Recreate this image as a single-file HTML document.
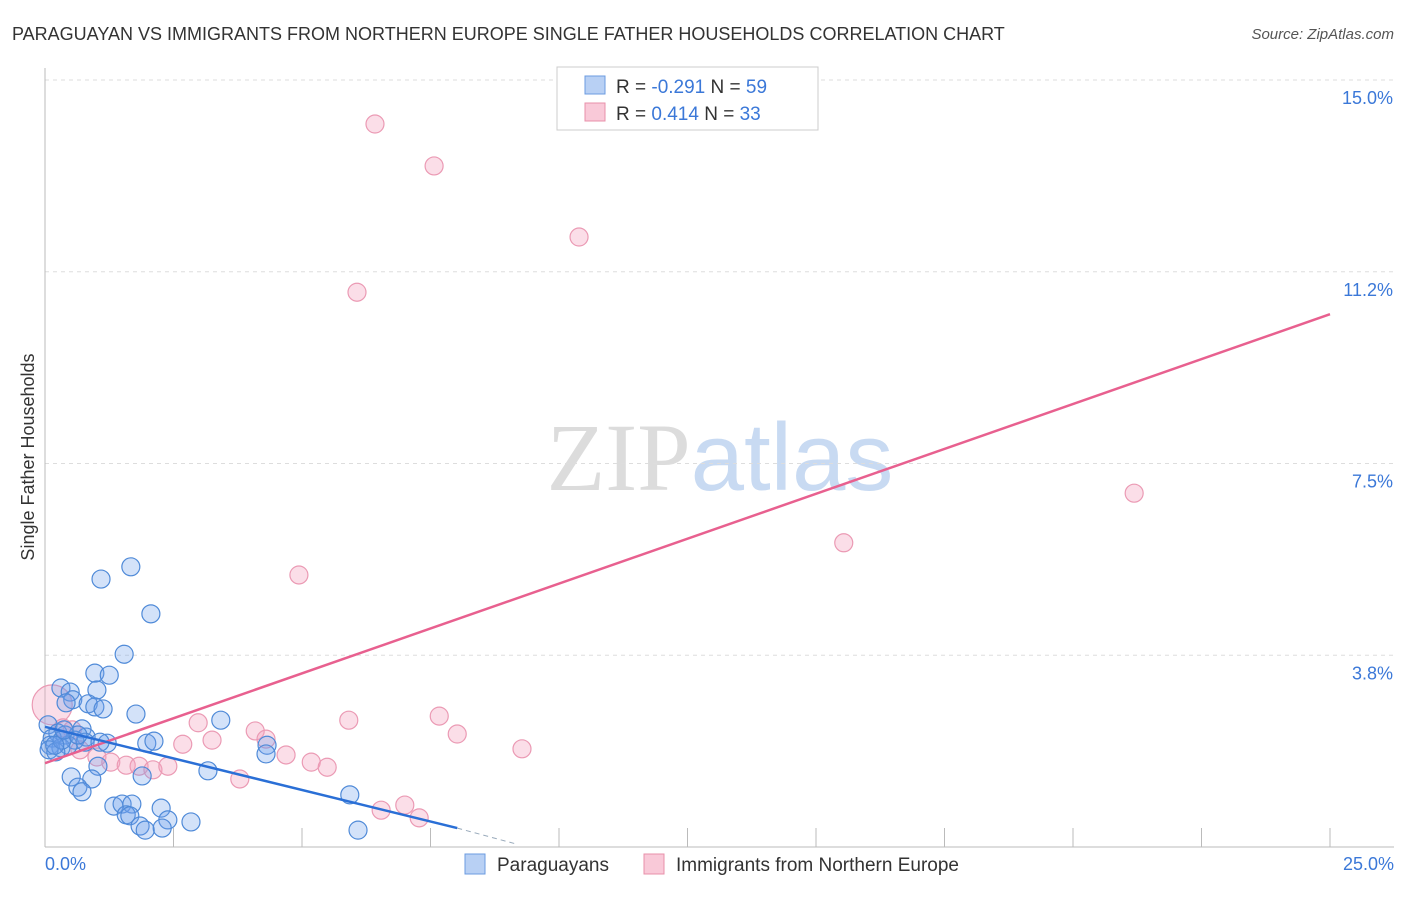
<!DOCTYPE html>
<html><head><meta charset="utf-8"><style>
body{margin:0;background:#fff;font-family:"Liberation Sans",sans-serif}
svg text{font-family:"Liberation Sans",sans-serif}
</style></head><body>
<svg id="chart" width="1406" height="892" xmlns="http://www.w3.org/2000/svg">
<text x="12" y="40" font-size="18" fill="#333">PARAGUAYAN VS IMMIGRANTS FROM NORTHERN EUROPE SINGLE FATHER HOUSEHOLDS CORRELATION CHART</text>
<text x="1394" y="39" font-size="15" fill="#555" font-style="italic" text-anchor="end">Source: ZipAtlas.com</text>
<text x="720" y="490" font-size="96" text-anchor="middle"><tspan fill="#dcdcdc" font-family="Liberation Serif">ZIP</tspan><tspan fill="#c8daf2">atlas</tspan></text>
<g id="grid"></g>
<g id="axes"></g>
<text transform="translate(34,457) rotate(-90)" font-size="18" fill="#333" text-anchor="middle">Single Father Households</text>
<g id="marks"></g>
<g>
<rect x="557" y="67" width="261" height="63" fill="#fff" stroke="#ccc"/>
<rect x="585" y="76" width="20" height="18" fill="#b8d0f4" stroke="#6b9be0"/>
<text x="616" y="93" font-size="19" fill="#333">R = <tspan fill="#3b78d8">-0.291</tspan>   N = <tspan fill="#3b78d8">59</tspan></text>
<rect x="585" y="103" width="20" height="18" fill="#f9c9d8" stroke="#e890aa"/>
<text x="616" y="120" font-size="19" fill="#333">R =  <tspan fill="#3b78d8">0.414</tspan>   N = <tspan fill="#3b78d8">33</tspan></text>
</g>
<g>
<rect x="465" y="854" width="20" height="20" fill="#b8d0f4" stroke="#6b9be0"/>
<text x="497" y="871" font-size="19" fill="#333">Paraguayans</text>
<rect x="644" y="854" width="20" height="20" fill="#f9c9d8" stroke="#e890aa"/>
<text x="676" y="871" font-size="19" fill="#333">Immigrants from Northern Europe</text>
</g>
</svg>
<script>
const blueX=[1.09,1.67,2.06,1.54,0.97,1.25,0.31,0.49,1.01,0.54,0.84,0.41,0.97,1.13,1.77,3.42,0.06,0.72,0.25,0.39,0.14,0.80,0.58,1.21,1.98,2.12,0.10,0.31,0.45,4.32,4.30,0.08,1.03,0.51,0.91,3.17,1.89,0.64,0.72,1.34,1.50,1.69,2.26,1.58,1.65,2.39,1.85,1.95,2.28,2.84,5.93,6.09,0.21,0.33,0.78,1.07,0.64,0.37,0.19];
const blueY=[5.24,5.48,4.56,3.77,3.40,3.36,3.11,3.03,3.07,2.88,2.80,2.82,2.74,2.70,2.60,2.48,2.39,2.31,2.23,2.19,2.13,2.15,2.09,2.03,2.03,2.07,1.99,1.94,1.99,1.99,1.82,1.90,1.58,1.37,1.33,1.49,1.39,1.17,1.08,0.80,0.84,0.84,0.76,0.63,0.61,0.53,0.41,0.33,0.37,0.49,1.02,0.33,1.86,2.09,2.05,2.05,2.19,2.29,1.99];
const pinkX=[6.42,7.57,10.39,6.07,21.19,15.54,4.94,7.67,5.91,2.98,4.09,8.02,3.25,4.30,2.68,9.28,4.69,5.18,5.49,1.01,1.28,1.58,1.83,2.10,2.39,3.79,6.54,7.00,7.28,0.14,0.35,0.68,0.53];
const pinkY=[14.14,13.32,11.93,10.85,6.92,5.95,5.32,2.56,2.48,2.43,2.27,2.21,2.09,2.11,2.01,1.92,1.80,1.66,1.56,1.76,1.66,1.60,1.58,1.51,1.58,1.33,0.72,0.82,0.57,2.78,2.33,1.90,2.29];
const blueTrend=[[0,2.35],[8.02,0.37]];
const blueDash=[[8.02,0.37],[9.2,0.05]];
const pinkTrend=[[0,1.64],[25,10.42]];
const yTicks=[3.75,7.5,11.25,15];
const yTickLabels=["3.8%","7.5%","11.2%","15.0%"];
const xTicks=[0,2.5,5,7.5,10,12.5,15,17.5,20,22.5,25];
const NS="http://www.w3.org/2000/svg";
const X=v=>45+v*51.4, Y=v=>847-v*51.13;
function mk(tag,attrs,parent){const e=document.createElementNS(NS,tag);for(const k in attrs)e.setAttribute(k,attrs[k]);parent.appendChild(e);return e;}
const grid=document.getElementById('grid'),axes=document.getElementById('axes'),marks=document.getElementById('marks');
yTicks.forEach((t,i)=>{
 const l=mk('line',{x1:45,x2:1394,y1:Y(t),y2:Y(t),stroke:'#ddd','stroke-dasharray':'4,4'},grid);
 
 
 const tx=mk('text',{x:1393,y:Y(t)+24,'font-size':18,fill:'#3b78d8','text-anchor':'end'},axes);
 tx.textContent=yTickLabels[i];
 
 
});
const ax=mk('line',{x1:45,x2:45,y1:68,y2:847,stroke:'#bbb'},axes);


const bx=mk('line',{x1:45,x2:1394,y1:847,y2:847,stroke:'#bbb'},axes);


xTicks.forEach(t=>{
 const l=mk('line',{x1:X(t),x2:X(t),y1:847,y2:t==0?847:828,stroke:'#bbb'},axes);
 
 
});
const xl0=mk('text',{x:45,y:870,'font-size':18,fill:'#3b78d8'},axes);xl0.textContent='0.0%';


const xl1=mk('text',{x:1394,y:870,'font-size':18,fill:'#3b78d8','text-anchor':'end'},axes);xl1.textContent='25.0%';


pinkX.forEach((v,i)=>{
 const c=mk('circle',{cx:X(v),cy:Y(pinkY[i]),r:i==29?20:9,fill:'rgba(244,160,190,0.35)',stroke:'#eb9ab4','stroke-width':1.2},marks);
 
 
});
blueX.forEach((v,i)=>{
 const c=mk('circle',{cx:X(v),cy:Y(blueY[i]),r:9,fill:'rgba(110,160,235,0.3)',stroke:'#4f8ad8','stroke-width':1.2},marks);
 
 
});
const pl=mk('line',{x1:X(pinkTrend[0][0]),y1:Y(pinkTrend[0][1]),x2:X(pinkTrend[1][0]),y2:Y(pinkTrend[1][1]),stroke:'#e8608f','stroke-width':2.5},marks);


const bl=mk('line',{x1:X(blueTrend[0][0]),y1:Y(blueTrend[0][1]),x2:X(blueTrend[1][0]),y2:Y(blueTrend[1][1]),stroke:'#2a6fd6','stroke-width':2.5},marks);


const bd=mk('line',{x1:X(blueDash[0][0]),y1:Y(blueDash[0][1]),x2:X(blueDash[1][0]),y2:Y(blueDash[1][1]),stroke:'#9ab','stroke-width':1,'stroke-dasharray':'5,4'},marks);


</script>
</body></html>
